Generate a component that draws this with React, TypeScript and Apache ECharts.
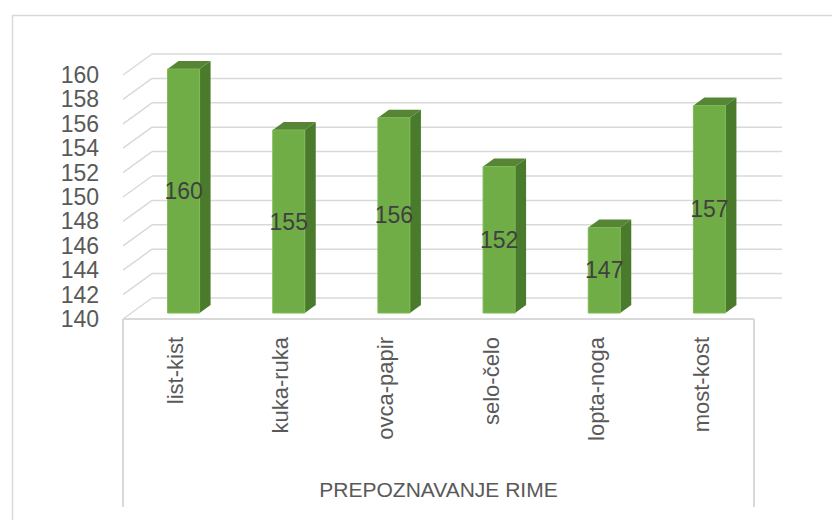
import React, { useEffect, useRef } from "react";
import * as echarts from "echarts";

const categories = ["list-kist", "kuka-ruka", "ovca-papir", "selo-čelo", "lopta-noga", "most-kost"];
const values = [160, 155, 156, 152, 147, 157];
const yTicks = [140, 142, 144, 146, 148, 150, 152, 154, 156, 158, 160];
const axisTitle = "PREPOZNAVANJE RIME";

const Y_MIN = 140;
const Y_MAX = 160;
const FONT = "'Liberation Sans', Arial, sans-serif";
const GRID_COLOR = "#D9D9D9";
const TEXT_COLOR = "#595959";

// 3D projection offsets
const BACK_DX = 29;
const BACK_DY = -21;
const BAR_DX = 8;
const BAR_DY = -6;
const DEPTH_DX = 11;
const DEPTH_DY = -8;
const BAR_W = 32;

export default function App() {
  const ref = useRef<HTMLDivElement>(null);

  useEffect(() => {
    document.body.style.margin = "0";
    const chart = echarts.init(ref.current!, null, { renderer: "svg" });

    const gridRender = (params: any, api: any) => {
      const cs = params.coordSys;
      const v = api.value(1);
      const p = api.coord([0, v]);
      const y = p[1];
      const x0 = cs.x;
      const x1 = cs.x + cs.width;
      const style = { stroke: GRID_COLOR, lineWidth: 1.5 };
      return {
        type: "group",
        children: [
          { type: "line", shape: { x1: x0, y1: y, x2: x0 + BACK_DX, y2: y + BACK_DY }, style },
          { type: "line", shape: { x1: x0 + BACK_DX, y1: y + BACK_DY, x2: x1 + BACK_DX - 1, y2: y + BACK_DY }, style },
        ],
      };
    };

    const frameRender = (params: any, api: any) => {
      const cs = params.coordSys;
      const base = api.coord([0, Y_MIN]);
      const y = base[1];
      const x0 = cs.x;
      const x1 = cs.x + cs.width;
      const style = { stroke: GRID_COLOR, lineWidth: 2 };
      return {
        type: "group",
        children: [
          { type: "line", shape: { x1: x0, y1: y, x2: x1, y2: y }, style },
          { type: "line", shape: { x1: x0, y1: y, x2: x0, y2: y + 188 }, style },
          { type: "line", shape: { x1: x1, y1: y, x2: x1, y2: y + 188 }, style },
        ],
      };
    };

    const barRender = (params: any, api: any) => {
      const i = api.value(0);
      const v = api.value(1);
      const top = api.coord([i, v]);
      const base = api.coord([i, Y_MIN]);
      const cx = top[0] + BAR_DX;
      const ty = top[1] + BAR_DY;
      const by = base[1] + BAR_DY;
      const l = cx - BAR_W / 2;
      const r = cx + BAR_W / 2;
      return {
        type: "group",
        children: [
          {
            type: "polygon",
            shape: { points: [[r, ty], [r + DEPTH_DX, ty + DEPTH_DY], [r + DEPTH_DX, by + DEPTH_DY], [r, by]] },
            style: { fill: "#4A7A2C" },
          },
          {
            type: "polygon",
            shape: { points: [[l, ty], [l + DEPTH_DX, ty + DEPTH_DY], [r + DEPTH_DX, ty + DEPTH_DY], [r, ty]] },
            style: { fill: "#558535" },
          },
          {
            type: "rect",
            shape: { x: l, y: ty, width: BAR_W, height: by - ty },
            style: { fill: "#70AD47", stroke: "#7DBA53", lineWidth: 1 },
          },
          {
            type: "text",
            x: cx,
            y: (ty + by) / 2,
            style: {
              text: String(v),
              fill: "#404040",
              font: `23px ${FONT}`,
              align: "center",
              verticalAlign: "middle",
            },
          },
        ],
      };
    };

    chart.setOption({
      animation: false,
      backgroundColor: "#ffffff",
      graphic: [
        {
          type: "rect",
          left: 10,
          top: 13,
          shape: { x: 0, y: 0, width: 840, height: 530 },
          style: { fill: "none", stroke: GRID_COLOR, lineWidth: 1.5 },
          silent: true,
        },
      ],
      grid: { left: 123, right: 78, top: 75, bottom: 201, containLabel: false },
      xAxis: {
        type: "category",
        data: categories,
        axisLine: { show: false },
        axisTick: { show: false },
        splitLine: { show: false },
        axisLabel: {
          rotate: 90,
          margin: 18,
          fontSize: 22,
          color: TEXT_COLOR,
          fontFamily: FONT,
          interval: 0,
        },
        name: axisTitle,
        nameLocation: "middle",
        nameGap: 160,
        nameTextStyle: { fontSize: 21, color: TEXT_COLOR, fontFamily: FONT },
      },
      yAxis: {
        type: "value",
        min: Y_MIN,
        max: Y_MAX,
        interval: 2,
        axisLine: { show: false },
        axisTick: { show: false },
        splitLine: { show: false },
        axisLabel: { margin: 24, fontSize: 23, color: TEXT_COLOR, fontFamily: FONT },
      },
      series: [
        {
          type: "custom",
          name: "grid",
          renderItem: gridRender,
          data: yTicks.map((t) => [0, t]),
          silent: true,
          z: 1,
        },
        {
          type: "custom",
          name: "frame",
          renderItem: frameRender,
          data: [[0, Y_MIN]],
          silent: true,
          z: 2,
        },
        {
          type: "custom",
          name: "values",
          renderItem: barRender,
          data: values.map((v, i) => [i, v]),
          z: 3,
        },
      ],
    });

    return () => chart.dispose();
  }, []);

  return <div ref={ref} style={{ width: 832, height: 520 }} />;
}
